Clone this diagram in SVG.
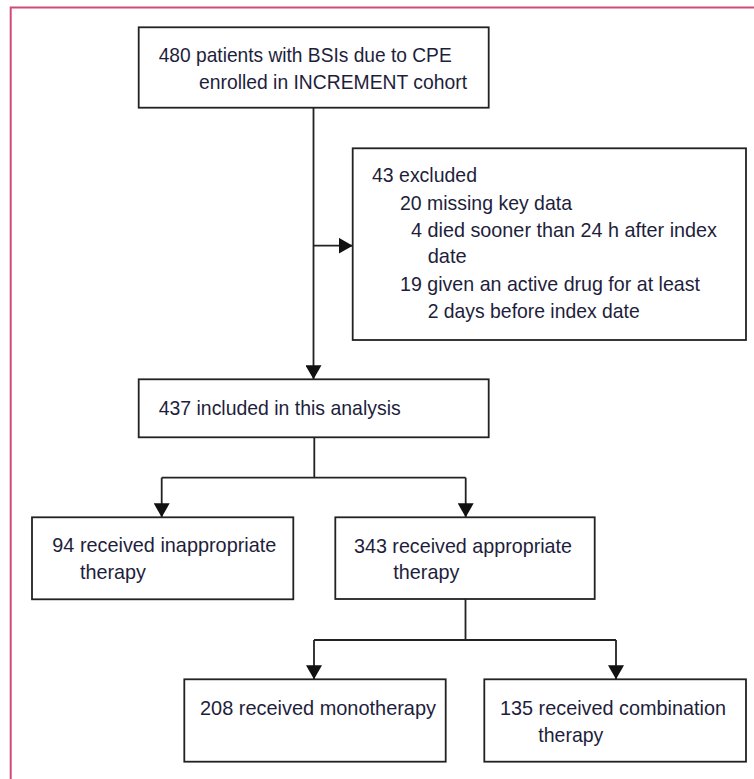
<svg xmlns="http://www.w3.org/2000/svg" width="754" height="779" viewBox="0 0 754 779">
<style>
.box{fill:#fff;stroke:#222;stroke-width:1.8}
.t{font-family:"Liberation Sans",Arial,sans-serif;font-size:21px;fill:#1e1e3c}
.c{fill:none;stroke:#222;stroke-width:1.8}
.frame{fill:none;stroke:#d24a78;stroke-width:2}
</style>
<defs>
<marker id="ah" viewBox="0 0 14 16" refX="14" refY="8" markerWidth="14" markerHeight="16" markerUnits="userSpaceOnUse" orient="auto">
<path d="M0,0 L14,8 L0,16 z" fill="#111"/>
</marker>
</defs>
<rect width="754" height="779" fill="#fff"/>
<path class="frame" d="M10.7,790 V7.5 H770"/>
<g id="connectors">
<path class="c" d="M313.5,107.7 V379.3" marker-end="url(#ah)"/>
<path class="c" d="M313.5,245.7 H352.7" marker-end="url(#ah)"/>
<path class="c" d="M314.3,437.3 V477.7 M161.7,477.7 H465.7"/>
<path class="c" d="M161.7,477.7 V517.3" marker-end="url(#ah)"/>
<path class="c" d="M465.7,477.7 V517.3" marker-end="url(#ah)"/>
<path class="c" d="M465.5,599 V640 M314,640 H616"/>
<path class="c" d="M314,640 V679.3" marker-end="url(#ah)"/>
<path class="c" d="M616,640 V679.3" marker-end="url(#ah)"/>
</g>
<g id="enrolled">
<rect class="box" x="138.7" y="27.3" width="350" height="80.4"/>
<text class="t" x="158.7" y="62" textLength="293" lengthAdjust="spacingAndGlyphs">480 patients with BSIs due to CPE</text>
<text class="t" x="199" y="89.3" textLength="268" lengthAdjust="spacingAndGlyphs">enrolled in INCREMENT cohort</text>
</g>
<g id="excluded">
<rect class="box" x="352.7" y="148.3" width="393.3" height="191.7"/>
<text class="t" x="372" y="182.3" textLength="105" lengthAdjust="spacingAndGlyphs">43 excluded</text>
<text class="t" x="400" y="209.5" textLength="172" lengthAdjust="spacingAndGlyphs">20 missing key data</text>
<text class="t" x="411" y="236.7" textLength="306" lengthAdjust="spacingAndGlyphs">4 died sooner than 24 h after index</text>
<text class="t" x="427.7" y="263.3" textLength="39" lengthAdjust="spacingAndGlyphs">date</text>
<text class="t" x="400" y="290.7" textLength="300" lengthAdjust="spacingAndGlyphs">19 given an active drug for at least</text>
<text class="t" x="427.7" y="318.3" textLength="212" lengthAdjust="spacingAndGlyphs">2 days before index date</text>
</g>
<g id="included">
<rect class="box" x="138.7" y="379.3" width="350" height="58"/>
<text class="t" x="158.7" y="415" textLength="242" lengthAdjust="spacingAndGlyphs">437 included in this analysis</text>
</g>
<g id="inappropriate">
<rect class="box" x="32" y="517.3" width="261.3" height="82"/>
<text class="t" x="52.3" y="552" textLength="224" lengthAdjust="spacingAndGlyphs">94 received inappropriate</text>
<text class="t" x="80" y="578.8" textLength="66" lengthAdjust="spacingAndGlyphs">therapy</text>
</g>
<g id="appropriate">
<rect class="box" x="335.3" y="517.3" width="259.4" height="81.7"/>
<text class="t" x="354" y="552.5" textLength="218" lengthAdjust="spacingAndGlyphs">343 received appropriate</text>
<text class="t" x="393.3" y="579" textLength="66" lengthAdjust="spacingAndGlyphs">therapy</text>
</g>
<g id="monotherapy">
<rect class="box" x="184.3" y="679.3" width="261.4" height="82.4"/>
<text class="t" x="200" y="715" textLength="236" lengthAdjust="spacingAndGlyphs">208 received monotherapy</text>
</g>
<g id="combination">
<rect class="box" x="484.3" y="679.3" width="261.7" height="82.4"/>
<text class="t" x="500" y="715" textLength="226" lengthAdjust="spacingAndGlyphs">135 received combination</text>
<text class="t" x="538.3" y="741.5" textLength="65" lengthAdjust="spacingAndGlyphs">therapy</text>
</g>
</svg>
